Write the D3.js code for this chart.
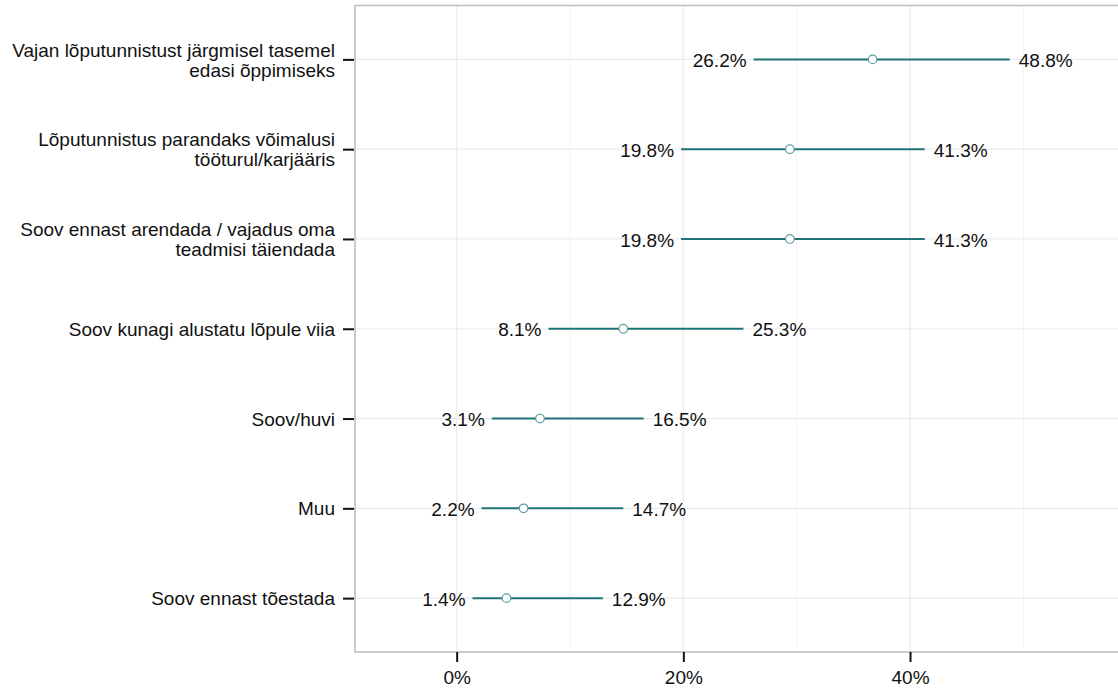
<!DOCTYPE html>
<html><head><meta charset="utf-8">
<script src="https://cdn.jsdelivr.net/npm/d3@7"></script>
<style>body{margin:0;background:#fff}svg{display:block}text{font-family:"Liberation Sans",Arial,sans-serif}</style>
</head><body><svg id="c" width="1118" height="691"></svg>
<script>
const categories = [
  "Vajan lõputunnistust järgmisel tasemel\nedasi õppimiseks",
  "Lõputunnistus parandaks võimalusi\ntööturul/karjääris",
  "Soov ennast arendada / vajadus oma\nteadmisi täiendada",
  "Soov kunagi alustatu lõpule viia",
  "Soov/huvi",
  "Muu",
  "Soov ennast tõestada"
];
const lower = [26.2, 19.8, 19.8, 8.1, 3.1, 2.2, 1.4];
const estimate = [36.7, 29.4, 29.4, 14.7, 7.35, 5.9, 4.4];
const upper = [48.8, 41.3, 41.3, 25.3, 16.5, 14.7, 12.9];
const xTicks = [0, 20, 40];
const xMinor = [10, 30, 50];

const svg = d3.select("#c");
const L = 355, R = 1118, T = 5.5, B = 652;
const FS = 19;
const x = d3.scaleLinear().domain([-8.97, 58.35]).range([L, R]);
const y = d3.scalePoint().domain(categories).range([T, B]).padding(0.6);

const g = svg.append("g");
// grid
g.selectAll(".minor").data(xMinor).join("line")
  .attr("x1", d => x(d)).attr("x2", d => x(d)).attr("y1", T).attr("y2", B)
  .attr("stroke", "#f4f4f4").attr("stroke-width", 1);
g.selectAll(".majx").data(xTicks).join("line")
  .attr("x1", d => x(d)).attr("x2", d => x(d)).attr("y1", T).attr("y2", B)
  .attr("stroke", "#ebebeb").attr("stroke-width", 1.2);
g.selectAll(".majy").data(categories).join("line")
  .attr("x1", L).attr("x2", R).attr("y1", d => y(d)).attr("y2", d => y(d))
  .attr("stroke", "#ebebeb").attr("stroke-width", 1.2);
// border
g.append("rect").attr("x", L).attr("y", T).attr("width", R - L + 2).attr("height", B - T)
  .attr("fill", "none").attr("stroke", "#bdbdbd").attr("stroke-width", 1.5);

// axes
const xAxis = d3.axisBottom(x).tickValues(xTicks).tickFormat(d => d + "%").tickSize(10).tickPadding(9);
const xa = svg.append("g").attr("transform", `translate(0,${B})`).call(xAxis);
xa.select(".domain").remove();
xa.selectAll(".tick line").attr("stroke", "#111").attr("stroke-width", 2);
xa.selectAll(".tick text").attr("font-size", FS).attr("fill", "#111")
  .attr("font-family", "Liberation Sans, Arial, sans-serif");

const yAxis = d3.axisLeft(y).tickSize(11).tickPadding(8).tickFormat("");
const ya = svg.append("g").attr("transform", `translate(${L - 1},0)`).call(yAxis);
ya.select(".domain").remove();
ya.selectAll(".tick line").attr("stroke", "#111").attr("stroke-width", 2);
ya.selectAll(".tick").each(function(d) {
  const lines = d.split("\n");
  const t = d3.select(this).append("text").attr("x", -19).attr("text-anchor", "end")
    .attr("font-size", FS).attr("fill", "#111").attr("font-family", "Liberation Sans, Arial, sans-serif");
  const lh = 20;
  lines.forEach((ln, i) => {
    t.append("tspan").attr("x", -19).attr("y", (i - (lines.length - 1) / 2) * lh).attr("dy", "0.35em").text(ln);
  });
});

// marks
const data = categories.map((c, i) => ({c, lo: lower[i], est: estimate[i], hi: upper[i]}));
const m = svg.append("g");
m.selectAll(".rng").data(data).join("line")
  .attr("x1", d => x(d.lo)).attr("x2", d => x(d.hi))
  .attr("y1", d => y(d.c)).attr("y2", d => y(d.c))
  .attr("stroke", "#1f7479").attr("stroke-width", 2);
m.selectAll(".pt").data(data).join("circle")
  .attr("cx", d => x(d.est)).attr("cy", d => y(d.c)).attr("r", 4.3)
  .attr("fill", "#fff").attr("stroke", "#5f9ea3").attr("stroke-width", 1.2);
m.selectAll(".lo").data(data).join("text")
  .attr("x", d => x(d.lo) - 7).attr("y", d => y(d.c)).attr("dy", "0.4em")
  .attr("text-anchor", "end").attr("font-size", FS).attr("fill", "#111")
  .text(d => d.lo.toFixed(1) + "%");
m.selectAll(".hi").data(data).join("text")
  .attr("x", d => x(d.hi) + 9).attr("y", d => y(d.c)).attr("dy", "0.4em")
  .attr("text-anchor", "start").attr("font-size", FS).attr("fill", "#111")
  .text(d => d.hi.toFixed(1) + "%");
</script></body></html>
